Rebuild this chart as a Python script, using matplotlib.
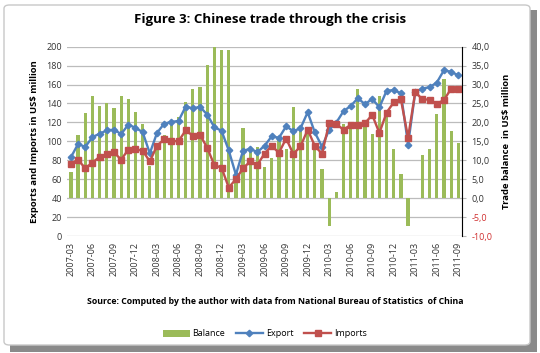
import numpy as np
import matplotlib.pyplot as plt
from matplotlib.patches import FancyBboxPatch, Rectangle
from matplotlib.ticker import FuncFormatter, MultipleLocator

plt.rcParams['font.family'] = ['Open Sans', 'DejaVu Sans']

# Monthly data, 2007-03 .. 2011-09
months = ['2007-03', '2007-04', '2007-05', '2007-06', '2007-07', '2007-08',
          '2007-09', '2007-10', '2007-11', '2007-12', '2008-01', '2008-02',
          '2008-03', '2008-04', '2008-05', '2008-06', '2008-07', '2008-08',
          '2008-09', '2008-10', '2008-11', '2008-12', '2009-01', '2009-02',
          '2009-03', '2009-04', '2009-05', '2009-06', '2009-07', '2009-08',
          '2009-09', '2009-10', '2009-11', '2009-12', '2010-01', '2010-02',
          '2010-03', '2010-04', '2010-05', '2010-06', '2010-07', '2010-08',
          '2010-09', '2010-10', '2010-11', '2010-12', '2011-01', '2011-02',
          '2011-03', '2011-04', '2011-05', '2011-06', '2011-07', '2011-08',
          '2011-09']
export = [83.2, 97.3, 94.1, 104.6, 108.0, 111.6, 112.4, 107.7, 117.6, 114.4,
          109.7, 87.4, 108.9, 118.7, 120.5, 121.6, 136.7, 134.9, 136.4, 128.3,
          114.9, 111.2, 90.5, 64.9, 90.3, 91.9, 88.8, 95.4, 105.4, 103.7,
          115.9, 110.8, 113.7, 130.7, 109.5, 94.5, 112.1, 119.9, 131.8, 137.4,
          145.5, 139.2, 144.9, 135.9, 153.3, 154.2, 150.7, 96.7, 152.2, 155.7,
          157.2, 162.0, 175.1, 173.3, 169.7]
imports = [76.4, 80.5, 71.6, 77.7, 83.6, 86.6, 88.5, 80.7, 91.3, 91.6,
           90.2, 78.8, 95.5, 102.1, 100.3, 100.3, 111.5, 106.1, 107.0, 93.2,
           74.9, 72.2, 51.3, 60.1, 71.7, 78.8, 75.4, 87.2, 95.2, 88.0,
           103.0, 86.8, 94.6, 112.3, 95.3, 86.9, 119.3, 118.2, 112.3, 117.4,
           116.8, 119.2, 128.0, 108.8, 130.4, 141.1, 144.3, 104.0, 152.1, 144.3,
           144.1, 139.7, 143.6, 155.6, 155.2]
balance = [6.9, 16.8, 22.5, 26.9, 24.4, 25.0, 23.9, 27.0, 26.3, 22.7,
           19.5, 8.6, 13.4, 16.7, 20.2, 21.3, 25.3, 28.7, 29.3, 35.2,
           40.1, 39.0, 39.1, 4.8, 18.6, 13.1, 13.4, 8.3, 10.6, 15.7,
           12.9, 24.0, 19.1, 18.4, 14.2, 7.6, -7.2, 1.7, 19.5, 20.0,
           28.7, 20.0, 16.9, 27.1, 22.9, 13.1, 6.5, -7.3, 0.1, 11.4,
           13.1, 22.3, 31.5, 17.8, 14.5]

x = np.arange(len(months))

fig = plt.figure(figsize=(5.4, 3.53), dpi=100)

# outer frame with shadow
fig.patches.append(Rectangle((10 / 540, 1 / 353), 527 / 540, 342 / 353,
                             transform=fig.transFigure, facecolor='#8a8a8a',
                             edgecolor='none', zorder=-3))
fig.patches.append(FancyBboxPatch((4 / 540, 8 / 353), 526 / 540, 340 / 353,
                                  boxstyle='round,pad=0,rounding_size=0.01',
                                  transform=fig.transFigure, facecolor='white',
                                  edgecolor='#c8c8c8', linewidth=1, zorder=-2))

ax = fig.add_axes([0.124, 0.331, 0.732, 0.537])
ax2 = ax.twinx()

# bars on secondary axis (trade balance)
bars = ax2.bar(x, balance, width=0.45, color='#9BBB59', zorder=2,
               label='Balance')
ax2.set_ylim(-10, 40)
ax2.yaxis.set_major_locator(MultipleLocator(5))
ax2.yaxis.set_major_formatter(
    FuncFormatter(lambda v, p: f'{v:.1f}'.replace('.', ',')))
for lbl, val in zip(ax2.get_yticklabels(), ax2.get_yticks()):
    lbl.set_color('#d03030' if val < 0 else '#333333')
ax2.grid(axis='y', color='#bcbcbc', linewidth=0.9, zorder=0)
ax2.set_axisbelow(True)

# lines on primary axis, drawn above bars
ax.set_zorder(ax2.get_zorder() + 1)
ax.patch.set_visible(False)
l1, = ax.plot(x, export, color='#4F81BD', marker='D', markersize=3.3,
              linewidth=1.7, label='Export')
l2, = ax.plot(x, imports, color='#C0504D', marker='s', markersize=4.5,
              linewidth=1.7, label='Imports')
ax.set_ylim(0, 200)
ax.yaxis.set_major_locator(MultipleLocator(20))
ax.set_xlim(-0.55, len(months) - 0.45)

ax.set_xticks(x[::3])
ax.set_xticklabels(months[::3], rotation=90, fontsize=6.5, color='#333333')
ax.tick_params(axis='x', length=0, pad=4)
ax.tick_params(axis='y', length=0, labelsize=6.5, labelcolor='#333333')
ax2.tick_params(axis='y', length=3, labelsize=6.5, color='#b8b8b8')

for a in (ax, ax2):
    for s in ('top', 'bottom', 'left'):
        a.spines[s].set_visible(False)
ax2.spines['right'].set_color('#b8b8b8')

ax.set_ylabel('Exports and Imports in US$ million', fontsize=6.8,
              fontweight='bold', labelpad=5)
ax2.set_ylabel('Trade balance  in US$ million', fontsize=6.8,
               fontweight='bold', labelpad=7)

fig.text(0.5, 1 - 20 / 353, 'Figure 3: Chinese trade through the crisis',
         ha='center', va='center', fontsize=9.5, fontweight='bold')
fig.text(0.51, 1 - 302 / 353,
         'Source: Computed by the author with data from National Bureau of '
         'Statistics  of China', ha='center', va='center', fontsize=6.3,
         fontweight='bold')

fig.legend(handles=[bars, l1, l2], labels=['Balance', 'Export', 'Imports'],
           loc='center', bbox_to_anchor=(0.49, 1 - 334 / 353), ncol=3,
           frameon=False, fontsize=6.5, handlelength=3, columnspacing=1.2,
           handletextpad=0.3)

fig.savefig('out.png', dpi=100)
